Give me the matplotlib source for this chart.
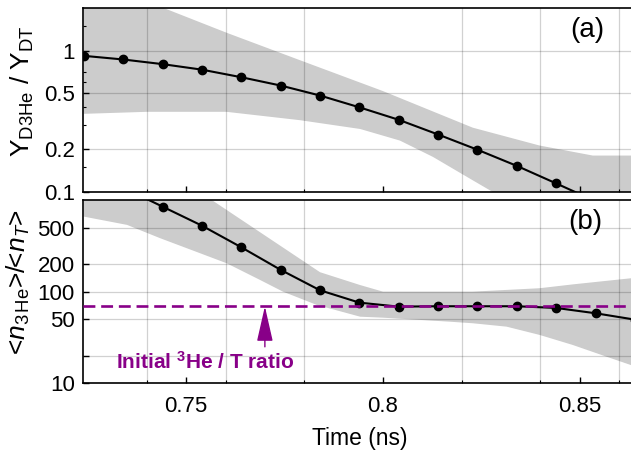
import numpy as np
import matplotlib
matplotlib.use('Agg')
import matplotlib.pyplot as plt
from matplotlib.ticker import NullFormatter

plt.rcParams['font.family'] = ['Liberation Sans', 'DejaVu Sans']
plt.rcParams['mathtext.fontset'] = 'custom'
plt.rcParams['mathtext.rm'] = 'Liberation Sans'
plt.rcParams['mathtext.it'] = 'Liberation Sans:italic'
plt.rcParams['mathtext.bf'] = 'Liberation Sans:bold'

# 数据：时间点 (ns)
t_pts = [0.724, 0.734, 0.744, 0.754, 0.764, 0.774, 0.784, 0.794,
         0.804, 0.814, 0.824, 0.834, 0.844, 0.854, 0.864]
# (a) Y_D3He / Y_DT
ratio_a = [0.918, 0.865, 0.802, 0.733, 0.648, 0.566, 0.481, 0.397,
           0.324, 0.255, 0.199, 0.153, 0.115, 0.086, 0.065]
# (b) <n_3He>/<n_T>
ratio_b = [1850, 1365, 847, 525, 305, 173, 103.5, 75.9,
           68.6, 69.3, 69.3, 69.3, 66.4, 58.1, 49.5]

# 误差带 (a)
band_a_hi_t = [0.724, 0.7455, 0.7603, 0.7791, 0.80, 0.8228, 0.8398, 0.8533, 0.863]
band_a_hi = [3.3, 1.94, 1.336, 0.851, 0.517, 0.285, 0.213, 0.181, 0.181]
band_a_lo_t = [0.724, 0.7401, 0.7602, 0.7789, 0.7942, 0.8043, 0.8127, 0.8228, 0.8279, 0.84, 0.863]
band_a_lo = [0.357, 0.369, 0.369, 0.322, 0.279, 0.231, 0.177, 0.121, 0.1, 0.07, 0.05]

# 误差带 (b)
band_b_hi_t = [0.724, 0.7565, 0.784, 0.7942, 0.80, 0.8228, 0.8398, 0.8482, 0.863]
band_b_hi = [14000, 1000, 163, 118, 100, 100, 109, 120, 140]
band_b_lo_t = [0.724, 0.735, 0.7434, 0.7536, 0.7603, 0.7688, 0.7746, 0.7832, 0.7942,
               0.80, 0.817, 0.8228, 0.8314, 0.8398, 0.8482, 0.8568, 0.863]
band_b_lo = [659, 535, 383, 262, 204, 134, 100, 71.6, 53.3,
             52, 47, 45.2, 41.5, 33.7, 26.2, 19.5, 15.8]

initial_ratio = 69
purple = '#880088'

fig = plt.figure(figsize=(6.31, 4.53), dpi=100)
ax1 = fig.add_axes([83/631, 1-192/453, 548/631, 184/453])
ax2 = fig.add_axes([83/631, 1-383.3/453, 548/631, 183.3/453])

for ax, hi_t, hi, lo_t, lo, y in [
        (ax1, band_a_hi_t, band_a_hi, band_a_lo_t, band_a_lo, ratio_a),
        (ax2, band_b_hi_t, band_b_hi, band_b_lo_t, band_b_lo, ratio_b)]:
    ax.set_yscale('log')
    ax.fill(np.r_[hi_t, lo_t[::-1]], np.r_[hi, lo[::-1]],
            color='#cccccc', lw=0, zorder=1)
    ax.plot(t_pts, y, '-o', color='black', lw=1.5, ms=6, zorder=4)
    ax.set_xlim(0.7238, 0.863)
    ax.set_xticks([0.75, 0.80, 0.85])
    ax.set_xticks(np.arange(0.74, 0.861, 0.02), minor=True)
    ax.tick_params(axis='x', which='minor', length=0)
    ax.tick_params(which='major', direction='in', length=4, width=1,
                   labelsize=16, pad=6)
    ax.tick_params(which='minor', direction='in', length=2.5, width=0.8)
    ax.tick_params(axis='x', pad=9)
    ax.set_axisbelow(False)
    ax.grid(axis='x', which='minor', color='black', alpha=0.18, lw=0.9)
    ax.grid(axis='y', which='major', color='black', alpha=0.18, lw=0.9)
    ax.spines['right'].set_visible(False)
    for s in ['left', 'top', 'bottom']:
        ax.spines[s].set_linewidth(1.2)

# (a)
ax1.set_ylim(0.1, 2.0)
ax1.set_yticks([0.1, 0.2, 0.5, 1], ['0.1', '0.2', '0.5', '1'])
ax1.set_yticks([0.15, 0.3, 0.4, 0.6, 0.7, 1.5], minor=True)
ax1.yaxis.set_minor_formatter(NullFormatter())
ax1.tick_params(axis='x', labelbottom=False)
ax1.text(0.92, 0.88, '(a)', transform=ax1.transAxes, fontsize=20,
         ha='center', va='center')

# (b)
ax2.set_ylim(10, 1000)
ax2.set_yticks([10, 20, 50, 100, 200, 500], ['10', '', '50', '100', '200', '500'])
ax2.yaxis.set_minor_locator(matplotlib.ticker.NullLocator())
ax2.set_xticklabels(['0.75', '0.8', '0.85'])
ax2.axhline(initial_ratio, color=purple, lw=1.9, ls=(0, (4.5, 2.2)), zorder=5)
ax2.annotate('', xy=(0.770, initial_ratio), xytext=(0.770, 25),
             arrowprops=dict(arrowstyle='-|>,head_length=1.1,head_width=0.25',
                             mutation_scale=20, color=purple, lw=1,
                             shrinkA=0, shrinkB=0), zorder=5)
ax2.text(0.7548, 14.3, r'Initial $^{\mathbf{3}}$He / T ratio', color=purple,
         fontsize=15, fontweight='bold', ha='center', va='baseline')
ax2.text(0.917, 0.88, '(b)', transform=ax2.transAxes, fontsize=20,
         ha='center', va='center')

# 轴标签
fig.text(22/631, 1-91.5/453, r'Y$_{\mathrm{D3He}}$ / Y$_{\mathrm{DT}}$',
         rotation=90, ha='center', va='center', fontsize=19)
fig.text(18/631, 1-281.5/453, r'<$n_{\mathrm{3\,He}}$>/<$n_T$>',
         rotation=90, ha='center', va='center', fontsize=19)
fig.text(360/631, 1-438/453, 'Time (ns)', ha='center', va='center', fontsize=16.5)

fig.savefig('out.png', dpi=100)
